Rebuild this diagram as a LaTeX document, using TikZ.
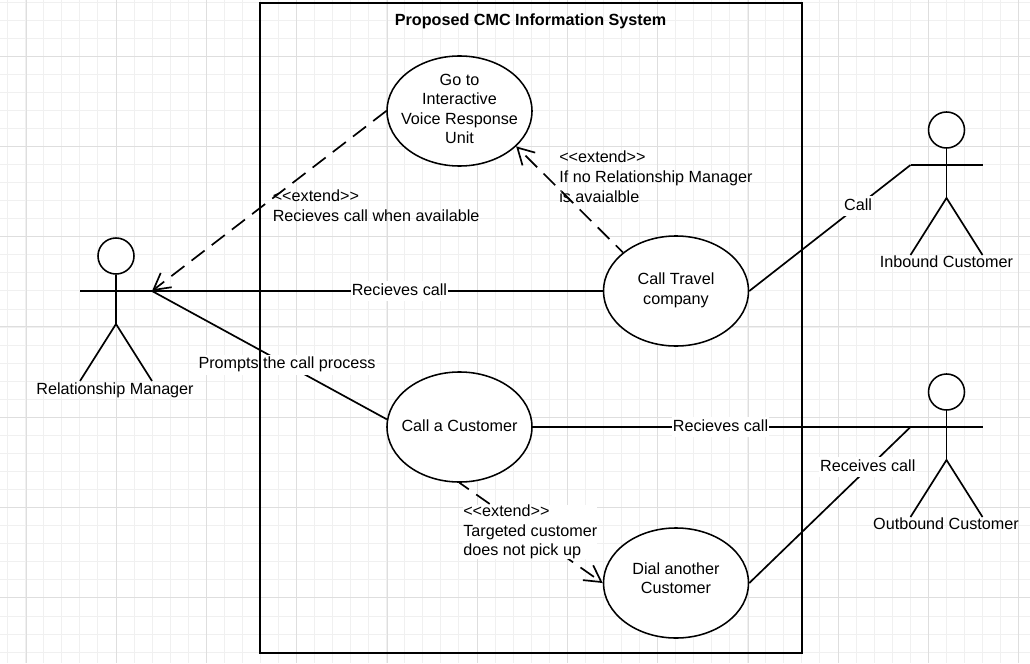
\documentclass[tikz,border=0pt]{standalone}
\usepackage{fontspec}
\setmainfont{Liberation Sans}
\usetikzlibrary{arrows.meta,shapes.geometric}
\newcommand{\diagramfont}{\fontsize{11.5}{13.9}\selectfont}

\begin{document}
\begin{tikzpicture}[x=0.025cm,y=-0.025cm]
	
	\tikzset{every node/.style = {font=\diagramfont}}
	\tikzset{usecase/.style = {shape=ellipse,fill=white,draw,line width=1.1pt,minimum width=3.625cm,minimum height=2.75cm,inner sep=-8pt,align=center}}
	\tikzset{head/.style = {shape=circle,fill=white,draw,line width=1.1pt,minimum size=0.9cm,inner sep=0pt}}
	\tikzset{system/.style = {shape=rectangle,draw,line width=1.3pt,minimum width=13.55cm,minimum height=16.25cm,outer sep=0pt}}
	\tikzset{caption/.style = {inner sep=0pt,text height=10pt,text depth=4.2pt}}
	\tikzset{edgelabel/.style = {caption,fill=white,inner xsep=0.7pt}}
	\tikzset{note/.style = {anchor=north west,align=left,inner sep=0pt}}
	\tikzset{assoc/.style = {line width=1.2pt}}
	\tikzset{extendedge/.style = {line width=1.2pt,dash pattern=on 11.7pt off 6.4pt,-{Straight Barb[length=11.5pt,width=12.8pt]}}}
	\tikzset{gridminor/.style = {line width=0.7pt,color=black!6}}
	\tikzset{gridmajor/.style = {line width=0.7pt,color=black!13}}
	\tikzset{actor/.pic = {
		\node[head] (-head) at (0,0) {};
		\coordinate (-lefthand) at (-36,35);
		\coordinate (-righthand) at (36,35);
		\coordinate (-hip) at (0,68);
		\coordinate (-leftfoot) at (-36,125);
		\coordinate (-rightfoot) at (36,125);
		\draw[assoc] (-head) -- (-hip);
		\draw[assoc] (-lefthand) -- (-righthand);
		\draw[assoc] (-leftfoot) -- (-hip) -- (-rightfoot);
	}}
	% page and grid
	\fill[white] (0,0) rectangle (1030,663);
	\useasboundingbox (0,0) rectangle (1030,663);
	\foreach \k in {0,...,56} \draw[gridminor] ({7.7+18.05*\k},0) -- ({7.7+18.05*\k},663);
	\foreach \k in {0,...,36} \draw[gridminor] (0,{2+18.06*\k}) -- (1030,{2+18.06*\k});
	\foreach \k in {0,...,11} \draw[gridmajor] ({26+90.25*\k},0) -- ({26+90.25*\k},663);
	\foreach \k in {0,...,6} \draw[gridmajor] (0,{56+90.3*\k}) -- (1030,{56+90.3*\k});
	% use cases
	\node[usecase] (ivr) at (459.5,111) {Go to\\Interactive\\Voice Response\\Unit\\[-11pt]};
	\node[usecase] (travel) at (676,291) {Call Travel\\company\\[-10.7pt]};
	\node[usecase] (cust) at (459.5,427) {Call a Customer\\[-12.4pt]};
	\node[usecase] (dial) at (676,583) {Dial another\\Customer\\[-6.8pt]};
	% actors
	\pic (rm) at (116,256) {actor};
	\pic (inb) at (946.5,130) {actor};
	\pic (outb) at (946.5,392) {actor};
	\node[caption] (rmlabel) at (115,390) {Relationship Manager};
	\node[caption] (inblabel) at (946.5,263) {Inbound Customer};
	\node[caption] (outblabel) at (946,525) {Outbound Customer};
	%edges
	\draw[assoc] (rm-righthand) -- node[edgelabel,pos=0.549] (l1) {Recieves call} (travel.west);
	\draw[assoc] (rm-righthand) -- node[edgelabel,pos=0.575] (l2) {Prompts the call process} (cust.174);
	\draw[assoc] (travel.east) -- node[edgelabel,pos=0.675] (l3) {Call} (inb-lefthand);
	\draw[assoc] (cust.east) -- node[edgelabel,pos=0.497] (l4) {Recieves call} (outb-lefthand);
	\draw[assoc] (dial.east) -- node[edgelabel,pos=0.735,yshift=1pt] (l5) {Receives call} (outb-lefthand);
	\draw[extendedge] (ivr.west) -- (rm-righthand);
	\draw[extendedge,dash phase=4.5pt] (travel.144) -- (ivr.-32);
	\draw[extendedge,dash phase=3.6pt] (cust.south) -- (dial.west);
	% extend notes
	\node[note] (n1) at (272.5,189.5) {<{}<extend>{}>\\Recieves call when available};
	\node[note] (n2) at (559,151) {<{}<extend>{}>\\If no Relationship Manager\\is avaialble};
	\node[note,fill=white] (n3) at (463,504.5) {<{}<extend>{}>\\Targeted customer\\does not pick up};
	% system boundary
	\node[system] (sys) at (531,328.3) {};
	\node[caption,font=\diagramfont\bfseries] (title) at (530.5,21) {Proposed CMC Information System};
\end{tikzpicture}
\end{document}
